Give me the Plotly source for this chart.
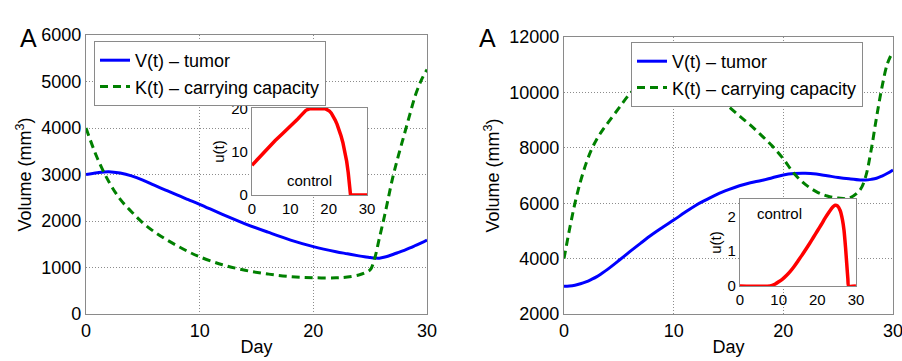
import plotly.graph_objects as go

# ---------------- data ----------------
# Left panel
day_left = [0, 1, 2, 3, 4, 5, 6, 7, 8, 9, 10, 12, 14, 16, 18, 20, 22, 23, 24, 24.5,
            25, 25.4, 25.8, 26.3, 27, 27.5, 28, 28.5, 29, 29.5, 30]
tumor_left = [3000, 3040, 3060, 3030, 2970, 2880, 2770, 2665, 2560, 2460, 2360, 2140,
              1940, 1760, 1590, 1450, 1340, 1295, 1250, 1230, 1215, 1203, 1200, 1225,
              1280, 1325, 1370, 1420, 1475, 1530, 1590]
capacity_left = [4000, 3350, 2850, 2470, 2200, 1960, 1770, 1610, 1470, 1340, 1230, 1060,
                 940, 860, 805, 780, 778, 795, 840, 880, 950, 1200, 1620, 2150, 2950,
                 3420, 3860, 4300, 4720, 5030, 5260]

# Left inset (control)
day_u_left = [0, 2, 4, 6, 8, 10, 11, 12, 12.5, 13, 13.5, 14, 14.5, 15, 19.2, 19.7, 20.2,
              20.7, 21.2, 21.7, 22.2, 22.7, 23.2, 23.7, 24.2, 24.7, 25.1, 25.4, 25.7, 30]
control_left = [6.9, 8.9, 10.8, 12.6, 14.3, 15.9, 16.8, 17.7, 18.2, 18.7, 19.2, 19.6,
                19.85, 20, 20, 19.85, 19.5, 19.0, 18.3, 17.4, 16.4, 15.2, 13.8, 12.2,
                10.2, 7.8, 5.2, 3.0, 0, 0]

# Right panel
day_right = [0, 0.5, 1, 1.5, 2, 2.5, 3, 3.5, 4, 5, 6, 7, 8, 9, 10, 11, 12, 13, 14, 15, 16,
             17, 18, 19, 20, 21, 22, 23, 24, 25, 26, 27, 27.5, 28, 28.5, 29, 29.5, 30]
tumor_right = [3000, 3010, 3040, 3090, 3160, 3250, 3350, 3480, 3620, 3930, 4250, 4560,
               4860, 5130, 5390, 5660, 5920, 6130, 6330, 6490, 6630, 6740, 6820, 6920,
               7020, 7070, 7080, 7050, 6990, 6930, 6880, 6840, 6835, 6860, 6900, 6980,
               7080, 7200]
capacity_right = [4000, 5050, 6000, 6780, 7420, 7930, 8320, 8630, 8900, 9430, 9950,
                  10320, 10560, 10700, 10730, 10660, 10500, 10220, 9840, 9490, 9150, 8820,
                  8450, 8060, 7600, 7060, 6680, 6420, 6260, 6185, 6180, 6480, 6950, 7900,
                  9100, 10200, 11050, 11480]

# Right inset (control)
day_u_right = [0, 7.8, 9, 10, 11, 12, 13, 14, 15, 16, 17, 18, 19, 20, 21, 22, 23, 24,
               24.6, 25.2, 25.9, 26.5, 26.9, 27.3, 27.6, 27.9, 28.1, 30]
control_right = [0, 0, 0.05, 0.12, 0.2, 0.3, 0.42, 0.56, 0.72, 0.88, 1.05, 1.22, 1.4,
                 1.58, 1.76, 1.95, 2.12, 2.27, 2.32, 2.30, 2.17, 1.9, 1.6, 1.1, 0.65,
                 0.2, 0, 0]

x_ticks = [0, 10, 20, 30]
left_y_ticks = [0, 1000, 2000, 3000, 4000, 5000, 6000]
right_y_ticks = [2000, 4000, 6000, 8000, 10000, 12000]

# ---------------- figure ----------------
W, H = 902, 361
FONT = "Liberation Sans, Arial, sans-serif"
BLUE, GREEN, RED = "#0000ff", "#008000", "#ff0000"
FRAME = "#8a8a8a"
GRID = "#8c8c8c"


def px_x(p):
    return p / W


def px_y(p):
    return 1 - p / H


fig = go.Figure()

fig.add_trace(go.Scatter(x=day_left, y=tumor_left, name="V(t) \u2013 tumor", mode="lines",
                         line=dict(color=BLUE, width=3, shape="spline"),
                         xaxis="x", yaxis="y", legend="legend"))
fig.add_trace(go.Scatter(x=day_left, y=capacity_left, name="K(t) \u2013 carrying capacity",
                         mode="lines",
                         line=dict(color=GREEN, width=3, dash="8px,5px", shape="spline"),
                         xaxis="x", yaxis="y", legend="legend"))
fig.add_trace(go.Scatter(x=day_right, y=tumor_right, name="V(t) \u2013 tumor", mode="lines",
                         line=dict(color=BLUE, width=3, shape="spline"),
                         xaxis="x2", yaxis="y2", legend="legend2"))
fig.add_trace(go.Scatter(x=day_right, y=capacity_right, name="K(t) \u2013 carrying capacity",
                         mode="lines",
                         line=dict(color=GREEN, width=3, dash="8px,5px", shape="spline"),
                         xaxis="x2", yaxis="y2", legend="legend2"))
fig.add_trace(go.Scatter(x=day_u_left, y=control_left, mode="lines", showlegend=False,
                         line=dict(color=RED, width=3.5, shape="linear"),
                         xaxis="x3", yaxis="y3"))
fig.add_trace(go.Scatter(x=day_u_right, y=control_right, mode="lines", showlegend=False,
                         line=dict(color=RED, width=3.5, shape="spline", smoothing=0.6),
                         xaxis="x4", yaxis="y4"))

main_tick_font = dict(family=FONT, size=18, color="black")
inset_tick_font = dict(family=FONT, size=15, color="black")

common_main = dict(showline=True, mirror=True, linecolor=FRAME, linewidth=1.2,
                   showgrid=True, gridcolor=GRID, griddash="1px,2px", gridwidth=1,
                   zeroline=False, ticks="", tickfont=main_tick_font, automargin=False,
                   tickformat="d", ticklabeloverflow="allow")
common_inset = dict(showline=True, mirror=True, linecolor=FRAME, linewidth=1.2,
                    showgrid=False, zeroline=False, ticks="", tickfont=inset_tick_font,
                    automargin=False, ticklabeloverflow="allow")

title_font = dict(family=FONT, size=18, color="black")

fig.update_layout(
    width=W, height=H,
    margin=dict(l=0, r=0, t=0, b=0),
    paper_bgcolor="white", plot_bgcolor="white",
    font=dict(family=FONT, color="black"),
    xaxis=dict(domain=[px_x(86), px_x(427)], range=[0, 30], tickvals=x_ticks, anchor="y",
               title=dict(text="Day", font=title_font, standoff=0), **common_main),
    yaxis=dict(domain=[px_y(314), px_y(35)], range=[0, 6000], tickvals=left_y_ticks,
               anchor="x", title=dict(text="Volume (mm<sup>3</sup>)", font=title_font,
                                      standoff=4), **common_main),
    xaxis2=dict(domain=[px_x(564), px_x(893)], range=[0, 30], tickvals=x_ticks, anchor="y2",
                title=dict(text="Day", font=title_font, standoff=0), **common_main),
    yaxis2=dict(domain=[px_y(314), px_y(37)], range=[2000, 12000], tickvals=right_y_ticks,
                anchor="x2", title=dict(text="Volume (mm<sup>3</sup>)", font=title_font,
                                        standoff=4), **common_main),
    xaxis3=dict(domain=[px_x(252), px_x(367)], range=[0, 30], tickvals=x_ticks, anchor="y3",
                **common_inset),
    yaxis3=dict(domain=[px_y(195), px_y(108)], range=[0, 20.2], tickvals=[0, 10, 20],
                anchor="x3", title=dict(text="u(t)", font=inset_tick_font, standoff=2),
                **common_inset),
    xaxis4=dict(domain=[px_x(740), px_x(856)], range=[0, 30], tickvals=x_ticks, anchor="y4",
                **common_inset),
    yaxis4=dict(domain=[px_y(286), px_y(199)], range=[0, 2.5], tickvals=[0, 1, 2],
                anchor="x4", title=dict(text="u(t)", font=inset_tick_font, standoff=2),
                **common_inset),
    legend=dict(x=px_x(94), y=px_y(41), xanchor="left", yanchor="top",
                bgcolor="white", bordercolor=FRAME, borderwidth=1,
                font=dict(family=FONT, size=18, color="black"),
                itemwidth=30, tracegroupgap=0),
    legend2=dict(x=px_x(631), y=px_y(42), xanchor="left", yanchor="top",
                 bgcolor="white", bordercolor=FRAME, borderwidth=1,
                 font=dict(family=FONT, size=18, color="black"),
                 itemwidth=30, tracegroupgap=0),
    annotations=[
        dict(text="A", x=px_x(18), y=px_y(22), xref="paper", yref="paper",
             showarrow=False, font=dict(family=FONT, size=25, color="black")),
        dict(text="A", x=px_x(487), y=px_y(22), xref="paper", yref="paper",
             showarrow=False, font=dict(family=FONT, size=25, color="black")),
        dict(text="control", x=15, y=3.4, xref="x3", yref="y3", showarrow=False,
             font=dict(family=FONT, size=15, color="black")),
        dict(text="control", x=10.1, y=2.09, xref="x4", yref="y4", showarrow=False,
             font=dict(family=FONT, size=15, color="black")),
    ],
)

fig.write_html("out.html")
